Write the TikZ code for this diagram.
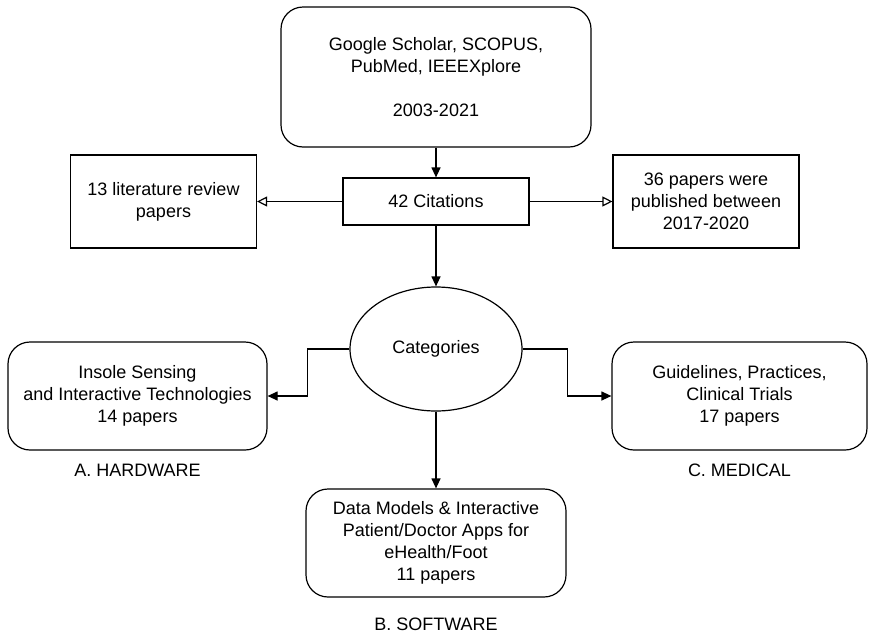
\documentclass[tikz,border=0pt]{standalone}
\usepackage{fontspec}
\setmainfont{Liberation Sans}
\usetikzlibrary{arrows.meta, shapes.geometric}
\tikzset{
    box/.style={draw, align=center, inner sep=0pt},
    rbox/.style={box, rounded corners=22pt},
    fillarrow/.style={-{Triangle[length=10pt,width=9pt]}},
    openarrow/.style={-{Triangle[open,length=10pt,width=10pt]}},
    every node/.style={font=\fontsize{18}{22}\selectfont}
}

\begin{document}
\begin{tikzpicture}[x=1pt, y=-1pt, line width=1.2pt]
        \useasboundingbox (0,0) rectangle (869,635);
        \node[rbox, minimum width=310pt, minimum height=140pt] (src) at (436,77)
                {Google Scholar, SCOPUS,\\PubMed, IEEEXplore\\[22pt]2003-2021};
        \node[box, minimum width=186pt, minimum height=47pt] (cit) at (436,201.5) {42 Citations};
        \node[box, minimum width=186pt, minimum height=93pt] (rev) at (163.5,201.5)
                {13 literature review\\papers};
        \node[box, minimum width=186pt, minimum height=93pt] (pub) at (706,201.5)
                {36 papers were\\published between\\2017-2020};
        \node[box, ellipse, minimum width=172pt, minimum height=124pt] (cat) at (436,349) {Categories};

        \node[rbox, minimum width=259pt, minimum height=108pt] (hw) at (137.5,396)
                {Insole Sensing\\and Interactive Technologies\\14 papers};
        \node[rbox, minimum width=255pt, minimum height=108pt] (md) at (739.5,396)
                {Guidelines, Practices,\\Clinical Trials\\17 papers};
        \node[rbox, minimum width=260pt, minimum height=108pt] (sw) at (436,543)
                {Data Models \& Interactive\\Patient/Doctor Apps for\\eHealth/Foot\\11 papers};

        \node (hwlab) at (137.5,470) {A. HARDWARE};
        \node (mdlab) at (739.5,470) {C. MEDICAL};
        \node (swlab) at (436,624) {B. SOFTWARE};

        \draw[fillarrow] (src) -- (cit);
        \draw[openarrow] (cit) -- (rev);
        \draw[openarrow] (cit) -- (pub);
        \draw[fillarrow] (cit) -- (cat);
        \draw[fillarrow] (cat.west) -- ++(-42,0) |- (hw.east);
        \draw[fillarrow] (cat.east) -- ++(45,0) |- (md.west);
        \draw[fillarrow] (cat) -- (sw);
\end{tikzpicture}
\end{document}
